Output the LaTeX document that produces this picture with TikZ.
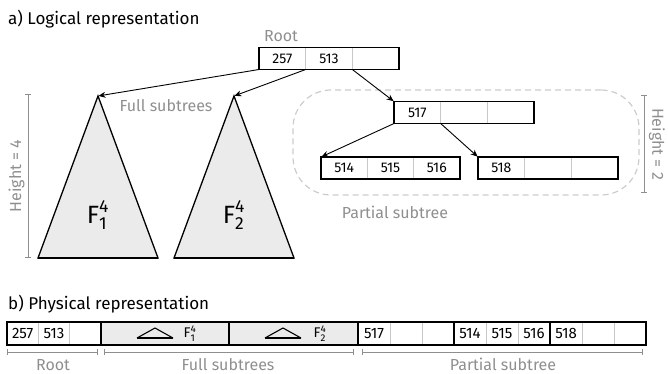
\documentclass[tikz,border=0pt]{standalone}
\usepackage{amsmath}
\usepackage{fontspec}
\setmainfont{Fira Sans}
\usetikzlibrary{arrows.meta,fit,calc}
\definecolor{lblc}{HTML}{8F8F8F}
\definecolor{divc}{HTML}{C8C8C8}
\definecolor{dashc}{HTML}{CCCCCC}
\definecolor{fillc}{HTML}{EBEBEB}
\newcommand\numfont{\fontsize{14}{16}\selectfont}
\newcommand\pnumfont{\fontsize{15}{17}\selectfont}
\newcommand\lblfont{\fontsize{16}{19}\selectfont}
\newcommand\titlefont{\fontsize{17}{20}\selectfont}
\newcommand\bigFfont{\fontsize{25}{30}\selectfont}
\newcommand\smallFfont{\fontsize{14}{16}\selectfont}
\newcommand\cellrow[8]{%
  \node[#2, minimum width=#5pt] (#1-1) at (#3,#4) {#6};
  \node[#2, minimum width=#5pt] (#1-2) at (#1-1.north east) {#7};
  \node[#2, minimum width=#5pt] (#1-3) at (#1-2.north east) {#8};
  \node[outer, fit=(#1-1)(#1-3)] (#1) {};
}
\begin{document}
\begin{tikzpicture}[x=1pt,y=-1pt,
  cell/.style={draw=divc, line width=0.8pt, inner sep=0pt, outer sep=0pt, anchor=north west, minimum height=22pt, font=\numfont},
  pcell/.style={cell, minimum height=23pt, font=\pnumfont},
  outer/.style={draw=black, line width=1.2pt, inner sep=0pt, outer sep=0pt},
  lbl/.style={text=lblc, font=\lblfont, inner sep=0pt},
  blbl/.style={lbl, anchor=base},
  arr/.style={-{Stealth[length=7pt,width=6pt]}, line width=0.9pt, shorten >=0.5pt},
  tri/.style={draw=black, fill=fillc, line width=1.3pt, line join=miter},
  brk/.style={draw=lblc, line width=0.8pt, {Bar[width=6pt]}-{Bar[width=6pt]}},
  ttl/.style={anchor=base west, font=\titlefont, inner sep=0pt},
]
\useasboundingbox (0,0) rectangle (668,374);

% ---------- a) logical ----------
\node[ttl] (ta) at (8,25) {a) Logical representation};
\node[blbl] (rootlbl) at (281,41.5) {Root};

\cellrow{root}{cell}{259}{47.5}{46.67}{257}{513}{}

% partial subtree region
\node[draw=dashc, dash pattern=on 6pt off 4pt, line width=1.2pt, rounded corners=38pt,
      minimum width=346pt, minimum height=105pt, inner sep=0pt] (part) at (466,142.5) {};
\cellrow{n517}{cell}{394}{101.5}{46.67}{517}{}{}
\cellrow{n514}{cell}{321}{157}{46.33}{514}{515}{516}
\cellrow{n518}{cell}{478}{157}{46.67}{518}{}{}

% full subtrees
\coordinate (t1top) at (98,96);
\coordinate (t2top) at (234,96);
\filldraw[tri] (t1top) -- (38,258) -- (158,258) -- cycle;
\filldraw[tri] (t2top) -- (174,258) -- (294,258) -- cycle;
\draw[line width=1.8pt] (38,258) -- (158,258);
\draw[line width=1.8pt] (174,258) -- (294,258);
\node[font=\bigFfont, inner sep=0pt] (F1) at (98,215) {$\text{F}^{\text{4}}_{\text{1}}$};
\node[font=\bigFfont, inner sep=0pt] (F2) at (234,215) {$\text{F}^{\text{4}}_{\text{2}}$};
\node[blbl] (fulllbl) at (166,112) {Full subtrees};
\node[blbl] (partlbl) at (395,218) {Partial subtree};

% arrows
\draw[arr] (root.south west) -- (t1top);
\draw[arr] (root-1.south east) -- (t2top);
\draw[arr] (root-2.south east) -- (n517.north west);
\draw[arr] (n517.south west) -- (n514.north west);
\draw[arr] (n517-1.south east) -- (n518.north west);

% height brackets
\draw[brk] (28,94) -- (28,258);
\node[lbl, rotate=90] (h4) at (16.5,176) {Height = 4};
\draw[brk] (644,95) -- (644,193);
\node[lbl, rotate=-90] (h2) at (657,144) {Height = 2};

% ---------- b) physical ----------
\node[ttl] (tb) at (8,309) {b) Physical representation};
\cellrow{proot}{pcell}{7}{322}{31.33}{257}{513}{}
\node[outer, fill=fillc, anchor=north west, minimum width=128pt, minimum height=23pt] (pF1) at (101,322) {};
\node[outer, fill=fillc, anchor=north west, minimum width=129pt, minimum height=23pt] (pF2) at (229,322) {};
\cellrow{p517}{pcell}{358}{322}{32}{517}{}{}
\cellrow{p514}{pcell}{454}{322}{32}{514}{515}{516}
\cellrow{p518}{pcell}{550}{322}{32}{518}{}{}

\draw[line width=1.1pt, line join=miter] ($(pF1.north west)+(36,16)$) -- ($(pF1.north west)+(54,6)$) -- ($(pF1.north west)+(72,16)$);
\draw[line width=1.8pt] ($(pF1.north west)+(36,16)$) -- ($(pF1.north west)+(72,16)$);
\draw[line width=1.1pt, line join=miter] ($(pF2.north west)+(36,16)$) -- ($(pF2.north west)+(54,6)$) -- ($(pF2.north west)+(72,16)$);
\draw[line width=1.8pt] ($(pF2.north west)+(36,16)$) -- ($(pF2.north west)+(72,16)$);
\node[font=\smallFfont, inner sep=0pt] (pF1l) at ($(pF1.north west)+(89,11.5)$) {$\text{F}^{\text{4}}_{\text{1}}$};
\node[font=\smallFfont, inner sep=0pt] (pF2l) at ($(pF2.north west)+(91,11.5)$) {$\text{F}^{\text{4}}_{\text{2}}$};

% bottom brackets
\draw[brk] (7,352) -- (98,352);
\draw[brk] (104,352) -- (354,352);
\draw[brk] (362,352) -- (643,352);
\node[blbl] (prootl) at (53,370.5) {Root};
\node[blbl] (pfulll) at (228,370.5) {Full subtrees};
\node[blbl] (ppartl) at (503,370.5) {Partial subtree};
\end{tikzpicture}
\end{document}
